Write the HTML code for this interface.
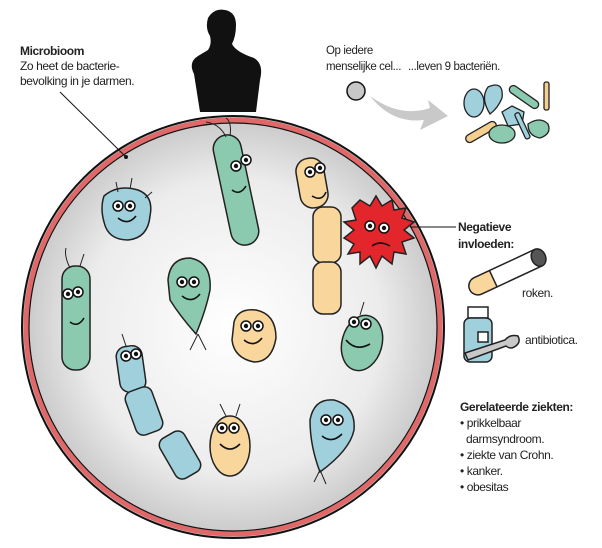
<!DOCTYPE html>
<html><head><meta charset="utf-8"><style>
html,body{margin:0;padding:0;background:#fff}
svg{display:block}
text{font-family:"Liberation Sans",sans-serif;font-size:12px;fill:#222;letter-spacing:-0.4px}
</style></head><body>
<svg width="602" height="548" viewBox="0 0 602 548" xmlns="http://www.w3.org/2000/svg">
<defs>
<radialGradient id="g" cx="0.5" cy="0.5" r="0.5">
<stop offset="0" stop-color="#fff"/><stop offset="0.7" stop-color="#ececec"/><stop offset="1" stop-color="#c8c8c8"/>
</radialGradient>
<g id="eye"><circle r="5" fill="#fff" stroke="#111" stroke-width="1.5"/><circle r="2.2" fill="#111"/></g>
</defs>
<path d="M200 112 L194 74 Q188 62 198 56 L208 50 Q212 44 210 36 Q205 28 208 18 Q214 8 225 10 Q236 12 236 25 Q236 36 232 44 Q236 52 254 58 Q264 64 260 80 L256 112 Z" fill="#111"/>
<circle cx="233" cy="327" r="211" fill="url(#g)" stroke="#111" stroke-width="2"/>
<circle cx="233" cy="327" r="207" fill="none" stroke="#e06868" stroke-width="5"/>
<circle cx="233" cy="327" r="204" fill="none" stroke="#111" stroke-width="1.2"/>
<line x1="60" y1="92" x2="126" y2="157" stroke="#111" stroke-width="1"/>
<circle cx="126" cy="157" r="2" fill="#111"/>
<text x="20" y="55" font-weight="bold">Microbioom</text>
<text x="20" y="70">Zo heet de bacterie-</text>
<text x="20" y="85">bevolking in je darmen.</text>
<text x="326" y="54" style="font-size:11.5px">Op iedere</text>
<text x="326" y="70" style="font-size:11.5px">menselijke cel...</text>
<text x="408" y="70" style="font-size:11.5px">...leven 9 bacteriën.</text>
<circle cx="356" cy="91" r="9" fill="#c8c8c8" stroke="#111" stroke-width="1.5"/>
<path d="M370 96 Q400 118 430 108 L428 100 L448 116 L420 130 L424 120 Q392 124 370 96Z" fill="#c9c9c9"/>
<g stroke="#222" stroke-width="1.3">
<ellipse cx="474" cy="103" rx="10" ry="14" fill="#9fd0dc"/>
<path d="M488 87 Q504 80 502 98 Q498 108 490 114 Q480 98 488 87Z" fill="#9fd0dc"/>
<rect x="507" y="93" width="34" height="8" rx="4" fill="#8ccab0" transform="rotate(35 524 97)"/>
<rect x="464" y="128" width="34" height="8" rx="4" fill="#f5cf90" transform="rotate(-30 481 132)"/>
<path d="M502 112 L512 106 L524 112 L522 124 L508 126 Z" fill="#9fd0dc"/>
<ellipse cx="502" cy="134" rx="13" ry="9" fill="#8ccab0"/>
<path d="M528 124 Q540 116 548 124 Q552 134 540 138 Q528 136 528 124Z" fill="#8ccab0"/>
<rect x="544" y="82" width="5" height="28" rx="2" fill="#f5cf90"/>
<rect x="520" y="112" width="5" height="28" rx="2" fill="#9fd0dc" transform="rotate(-25 522 126)"/>
</g>
<g stroke="#222" stroke-width="1.5">
<rect x="222" y="134" width="28" height="112" rx="14" fill="#8ccab0" transform="rotate(-12 236 190)"/>
<rect x="298" y="158" width="28" height="50" rx="13" fill="#f8d69c" transform="rotate(-10 312 183)"/>
<rect x="313" y="207" width="28" height="56" rx="10" fill="#f8d69c"/>
<rect x="313" y="262" width="28" height="52" rx="10" fill="#f8d69c"/>
<path d="M104 196 Q118 184 138 190 Q154 196 150 216 Q148 238 128 240 Q108 240 104 222 Q100 208 104 196Z" fill="#9fd0dc"/>
<rect x="62" y="266" width="28" height="104" rx="13" fill="#8ccab0"/>
<path d="M168 280 Q170 258 190 258 Q212 262 210 290 Q206 310 196 334 Q180 316 170 300Z" fill="#8ccab0"/>
<path d="M234 322 Q238 308 256 310 Q276 314 276 338 Q272 362 254 362 Q234 358 232 340Z" fill="#f8d69c"/>
<rect x="118" y="346" width="26" height="46" rx="10" fill="#9fd0dc" transform="rotate(-8 131 369)"/>
<rect x="130" y="388" width="28" height="46" rx="8" fill="#9fd0dc" transform="rotate(-20 144 411)"/>
<rect x="166" y="432" width="28" height="46" rx="8" fill="#9fd0dc" transform="rotate(-30 180 455)"/>
<ellipse cx="362" cy="343" rx="20" ry="28" fill="#8ccab0" transform="rotate(15 362 343)"/>
<ellipse cx="230" cy="446" rx="20" ry="30" fill="#f8d69c"/>
<path d="M310 420 Q314 398 334 400 Q356 406 354 430 Q350 450 320 472 Q310 446 310 420Z" fill="#9fd0dc"/>
<path d="M360 200 L370 206 L376 196 L382 206 L392 200 L394 210 L406 208 L402 218 L414 222 L404 230 L414 238 L402 242 L406 254 L394 252 L392 264 L382 256 L376 268 L370 256 L360 264 L360 252 L348 254 L354 244 L344 238 L354 230 L344 222 L356 220 L352 208 Z" fill="#e2262b"/>
</g>
<g stroke="#222" stroke-width="1" fill="none">
<path d="M226 137 Q220 124 206 122"/><path d="M230 136 Q232 122 226 118"/>
<path d="M118 192 L116 182"/><path d="M130 189 L132 178"/><path d="M145 198 L152 192"/>
<path d="M70 268 Q64 256 66 248"/><path d="M80 266 L84 254"/>
<path d="M198 334 L190 350"/><path d="M198 334 L206 350"/>
<path d="M320 470 L314 482"/><path d="M320 470 L326 484"/>
<path d="M126 346 L122 334"/>
<path d="M360 315 L364 302"/>
<path d="M226 416 L220 404"/><path d="M236 416 L240 404"/>
</g>
<g>
<use href="#eye" x="236" y="166"/><use href="#eye" x="246" y="160"/>
<use href="#eye" x="310" y="172"/><use href="#eye" x="320" y="168"/>
<use href="#eye" x="118" y="206"/><use href="#eye" x="130" y="206"/>
<use href="#eye" x="68" y="294"/><use href="#eye" x="78" y="292"/>
<use href="#eye" x="182" y="282"/><use href="#eye" x="194" y="282"/>
<use href="#eye" x="246" y="326"/><use href="#eye" x="258" y="326"/>
<use href="#eye" x="126" y="356"/><use href="#eye" x="136" y="354"/>
<use href="#eye" x="354" y="322"/><use href="#eye" x="366" y="324"/>
<use href="#eye" x="222" y="428"/><use href="#eye" x="234" y="428"/>
<use href="#eye" x="326" y="420"/><use href="#eye" x="338" y="420"/>
<use href="#eye" x="370" y="226"/><use href="#eye" x="384" y="228"/>
</g>
<g fill="none" stroke="#111" stroke-width="1.6">
<path d="M232 190 Q240 196 246 186"/><path d="M312 196 Q322 202 326 192"/>
<path d="M118 218 Q128 226 136 216"/><path d="M70 322 Q78 328 84 318"/>
<path d="M182 296 Q192 304 200 294"/><path d="M244 340 Q254 348 262 338"/>
<path d="M346 340 Q356 352 370 344"/><path d="M220 444 Q230 454 240 444"/>
<path d="M322 436 Q332 444 342 434"/>
<path d="M372 246 Q380 240 390 246"/>
</g>
<line x1="410" y1="227" x2="456" y2="227" stroke="#111"/>
<text x="458" y="231" font-weight="bold">Negatieve</text>
<text x="458" y="248" font-weight="bold">invloeden:</text>
<g transform="rotate(-25 510 272)" stroke="#222" stroke-width="1.5">
<rect x="466" y="262" width="34" height="18" rx="9" fill="#f8d69c"/>
<rect x="492" y="262" width="50" height="18" fill="#fff"/>
<ellipse cx="542" cy="271" rx="7" ry="9" fill="#555"/>
</g>
<text x="522" y="297">roken.</text>
<g stroke="#222" stroke-width="1.5">
<rect x="468" y="307" width="20" height="11" fill="#fff"/>
<rect x="464" y="318" width="28" height="44" rx="6" fill="#9fd0dc"/>
<rect x="478" y="332" width="10" height="10" fill="#fff"/>
<path d="M465 353 L505 340 Q510 334 518 336 Q522 344 512 348 Q508 348 506 346 L468 360Z" fill="#c8c8c8"/>
</g>
<text x="525" y="344">antibiotica.</text>
<text x="460" y="411" font-weight="bold">Gerelateerde ziekten:</text>
<text x="460" y="427">• prikkelbaar</text>
<text x="466" y="443">darmsyndroom.</text>
<text x="460" y="459">• ziekte van Crohn.</text>
<text x="460" y="475">• kanker.</text>
<text x="460" y="491">• obesitas</text>
</svg>
</body></html>
